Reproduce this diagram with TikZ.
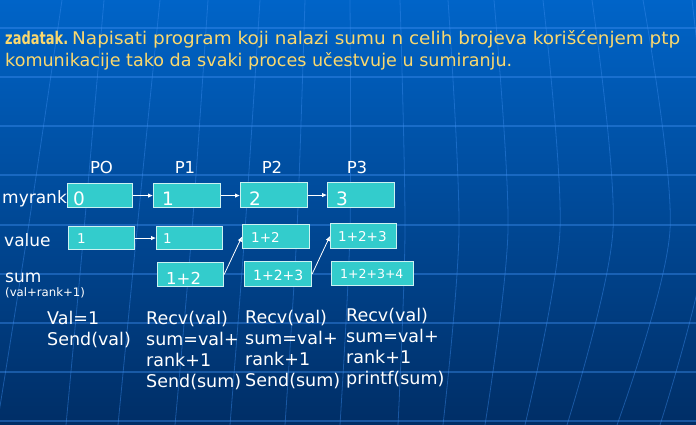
\documentclass[tikz,border=0pt]{standalone}
\usepackage{fontspec}
\setmainfont{DejaVu Sans}
\usetikzlibrary{arrows.meta}
\definecolor{bgtop}{HTML}{0064C8}
\definecolor{bgmid}{HTML}{004B9C}
\definecolor{bgbot}{HTML}{002E66}
\definecolor{gridc}{HTML}{3D8EF0}
\definecolor{cellfill}{HTML}{33CCCC}
\definecolor{hdrc}{HTML}{FAD86E}
\newcommand{\fsz}[1]{\fontsize{#1}{#1}\selectfont}

\begin{document}
\begin{tikzpicture}[x=1pt,y=-1pt,
  gridline/.style={draw=gridc, draw opacity=0.42, line width=0.8pt},
  cell/.style={draw=white!75!cellfill, line width=1.1pt, fill=cellfill,
    inner sep=0pt, anchor=north west},
  celltxt/.style={text=white, inner sep=0pt, anchor=base west},
  lbl/.style={text=white, inner sep=0pt, anchor=base west, font=\fsz{17}},
  proc/.style={text=white, inner sep=0pt, anchor=base, font=\fsz{16.5}},
  code/.style={text=white, inner sep=0pt, anchor=base west, font=\fsz{17.5}},
  hdr/.style={text=hdrc, inner sep=0pt, anchor=base west, font=\fsz{17.5}},
  msg/.style={draw=white, line width=0.8pt, -{Latex[length=5pt,width=4.5pt]}}
]
\useasboundingbox (0,0) rectangle (696,425);

% background with a faint globe grid
\shade[top color=bgtop, middle color=bgmid, bottom color=bgbot] (0,0) rectangle (696,425);
\foreach \y in {28,77,126,175,225,274,323,372,421}
  \draw[gridline, line width=1.1pt] (0,\y) -- (696,\y);
\foreach \a/\b/\c in {62/28/-3, 104/84/66, 160/137/118, 208/192/175, 260/245/230,
    305/297/285, 350/350/340, 400/405/398, 448/459/443, 494/508/485,
    543/560/525, 592/613/567, 643/670/617, 692/708/660}
  \draw[gridline] plot[smooth] coordinates {(\a,0) (\b,230) (\c,425)};

% task text
\node[hdr] (h0) at (5,45) {\resizebox{63pt}{\height}{\textbf{zadatak.}}};
\node[hdr] (h1) at (72,45) {\resizebox{608pt}{\height}{Napisati program koji nalazi sumu n celih brojeva korišćenjem ptp}};
\node[hdr] (h2) at (5,67) {\resizebox{507pt}{\height}{komunikacije tako da svaki proces učestvuje u sumiranju.}};

% process headers
\node[proc] (p0) at (101.5,173) {PO};
\node[proc] (p1) at (185,173) {P1};
\node[proc] (p2) at (272,173) {P2};
\node[proc] (p3) at (357,173) {P3};

% row labels
\node[lbl] (lrank) at (2,203) {myrank};
\node[lbl] (lval) at (4,246) {value};
\node[lbl] (lsum) at (5,282) {sum};
\node[lbl, font=\fsz{11.7}] (lform) at (5,296) {(val+rank+1)};

% myrank row
\node[cell, minimum width=65pt, minimum height=24pt] (r0) at (67,183) {};
\node[cell, minimum width=67pt, minimum height=24pt] (r1) at (153,183) {};
\node[cell, minimum width=67pt, minimum height=25pt] (r2) at (240,182) {};
\node[cell, minimum width=67pt, minimum height=25pt] (r3) at (327,182) {};
\node[celltxt, font=\fsz{18.5}] (t0) at (73,205) {0};
\node[celltxt, font=\fsz{18.5}] (t1) at (162,205) {1};
\node[celltxt, font=\fsz{18.5}] (t2) at (249,205) {2};
\node[celltxt, font=\fsz{18.5}] (t3) at (336,205) {3};

% value row
\node[cell, minimum width=66pt, minimum height=23pt] (v0) at (68,226) {};
\node[cell, minimum width=66pt, minimum height=23pt] (v1) at (156,226) {};
\node[cell, minimum width=67pt, minimum height=24pt] (v2) at (242,224) {};
\node[cell, minimum width=66pt, minimum height=25pt] (v3) at (330,223) {};
\node[celltxt, font=\fsz{13.5}] (u0) at (77,243) {1};
\node[celltxt, font=\fsz{13.5}] (u1) at (163,243) {1};
\node[celltxt, font=\fsz{13.5}] (u2) at (251,242) {1+2};
\node[celltxt, font=\fsz{13.5}] (u3) at (338,241) {1+2+3};

% sum row
\node[cell, minimum width=66pt, minimum height=24pt] (s1) at (157,262) {};
\node[cell, minimum width=67pt, minimum height=25pt] (s2) at (244,261) {};
\node[cell, minimum width=82pt, minimum height=24pt] (s3) at (331,261) {};
\node[celltxt, font=\fsz{16.5}] (w1) at (166,284) {1+2};
\node[celltxt, font=\fsz{14}] (w2) at (253,280) {1+2+3};
\node[celltxt, font=\fsz{12.5}] (w3) at (340,278) {1+2+3+4};

% messages
\draw[msg] (r0.east) -- (r1.west);
\draw[msg] (r1.east) -- (r2.west |- r1.east);
\draw[msg] (r2.east) -- (r3.west);
\draw[msg] (v0.east) -- (v1.west);
\draw[msg] (s1.east) -- (v2.west);
\draw[msg] (s2.east) -- (v3.west);

% pseudo-code per process
\foreach \t [count=\i] in {Val=1, Send(val)}
  \node[code] (ca\i) at (47,324+21*\i-21) {\t};
\foreach \t [count=\i] in {Recv(val), sum=val+, rank+1, Send(sum)}
  \node[code] (cb\i) at (146,324+21*\i-21) {\t};
\foreach \t [count=\i] in {Recv(val), sum=val+, rank+1, Send(sum)}
  \node[code] (cc\i) at (245,323+21*\i-21) {\t};
\foreach \t [count=\i] in {Recv(val), sum=val+, rank+1, printf(sum)}
  \node[code] (cd\i) at (346,321+21*\i-21) {\t};
\end{tikzpicture}
\end{document}
